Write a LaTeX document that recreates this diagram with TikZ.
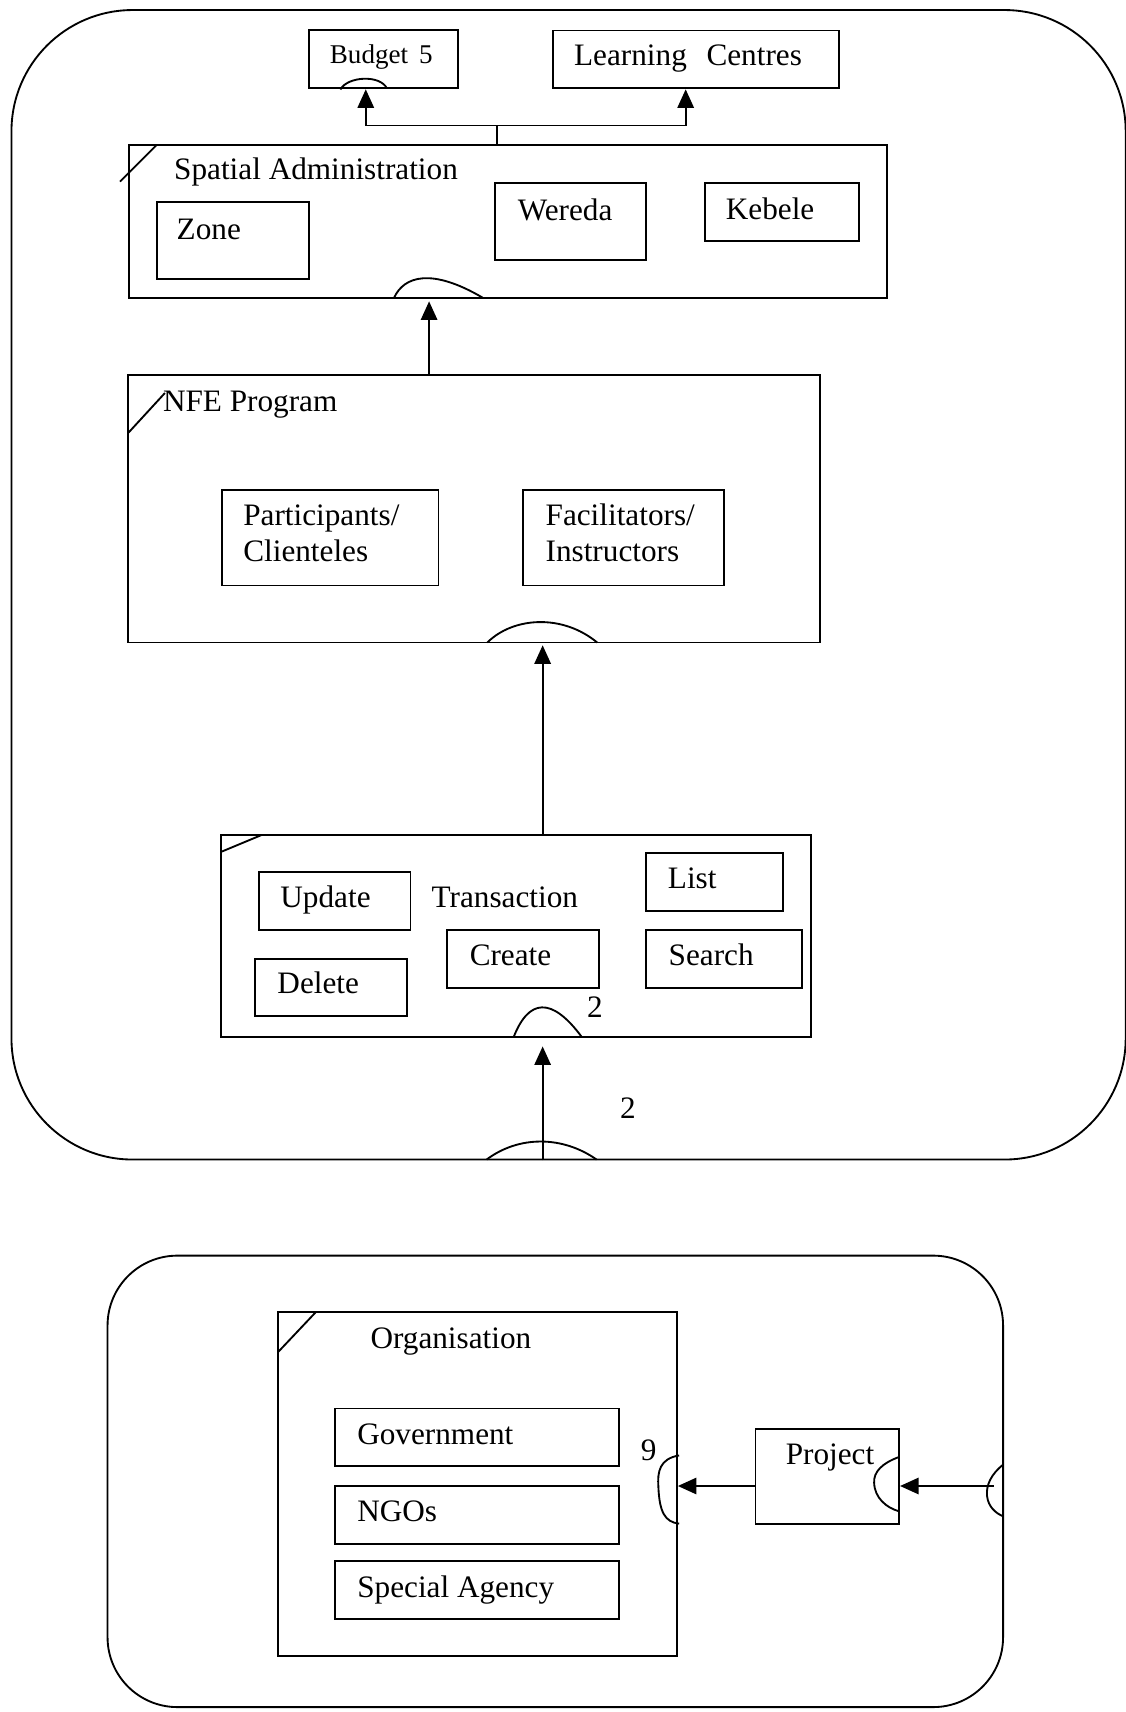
\documentclass[tikz,border=0pt]{standalone}
\usepackage{fontspec}
\setmainfont{Liberation Serif}
\usetikzlibrary{arrows.meta,fit,calc}
\begin{document}
\begin{tikzpicture}[x=0.5pt,y=-0.5pt,
  line width=0.85pt,
  box/.style={draw,rectangle,inner sep=0pt},
  lbl/.style={anchor=base west,inner sep=0pt,font=\fontsize{14.3pt}{16.5pt}\selectfont},
  small/.style={anchor=base west,inner sep=0pt,font=\fontsize{12.4pt}{14pt}\selectfont},
  arr/.style={-{Triangle[length=8.5pt,width=7.5pt]}},
  ]
\fill[white] (0,0) rectangle (1031,1568);
\useasboundingbox (0,0) rectangle (1031,1568);

% ---------- upper frame ----------
\node[box,rounded corners=55.5pt,fit={(10.5,9.2) (1031,1062)}] (topframe) {};

\node[box,fit={(282.7,27.5) (419.4,80.3)}] (budget) {};
\node[small] (budgetT) at (301.3,58.6) {Budget\hspace{5pt}5};
\node[box,fit={(506.3,28) (768.7,80.3)}] (learn) {};
\node[lbl] (learnT) at (525,60.4) {Learning\hspace{9pt}Centres};

\node[box,fit={(118.4,132.8) (812,272.6)}] (spatial) {};
\node[lbl] (spatialT) at (158.7,164.8) {Spatial Administration};
\node[box,fit={(143.5,184.7) (282.7,255.2)}] (zone) {};
\node[lbl] (zoneT) at (161,219) {Zone};
\node[box,fit={(453.7,167.3) (591.8,238)}] (wereda) {};
\node[lbl] (weredaT) at (473.4,202) {Wereda};
\node[box,fit={(645.6,167.3) (786.4,221)}] (kebele) {};
\node[lbl] (kebeleT) at (664,200.8) {Kebele};

\node[box,fit={(117,343.4) (750.8,588.5)}] (nfe) {};
\node[lbl] (nfeT) at (148.5,377) {NFE Program};
\node[box,fit={(203.3,448.7) (401.6,536.3)}] (part) {};
\node[lbl] (partT1) at (222,481.3) {Participants/};
\node[lbl] (partT2) at (222,514.3) {Clienteles};
\node[box,fit={(479.2,448.7) (663.1,536.3)}] (facil) {};
\node[lbl] (facilT1) at (498.9,481.3) {Facilitators/};
\node[lbl] (facilT2) at (498.9,514.3) {Instructors};

\node[box,fit={(202.8,764.5) (743,950)}] (trans) {};
\node[lbl] (transT) at (394.5,830.8) {Transaction};
\node[box,fit={(237,798.8) (376,851.6)}] (update) {};
\node[lbl] (updateT) at (256,830.8) {Update};
\node[box,fit={(592,781.4) (717,834.2)}] (list) {};
\node[lbl] (listT) at (610.9,814) {List};
\node[box,fit={(409.7,851.6) (549,905)}] (create) {};
\node[lbl] (createT) at (429.4,884.2) {Create};
\node[box,fit={(592,851.6) (734.3,905)}] (search) {};
\node[lbl] (searchT) at (611.6,884.2) {Search};
\node[box,fit={(233.9,878.1) (372.9,930.9)}] (delete) {};
\node[lbl] (deleteT) at (253.3,910.2) {Delete};
\node[lbl] (multA) at (536.9,931.5) {2};
\node[lbl] (multB) at (567.2,1024.6) {2};

% corner slashes
\draw (109.9,166.3) -- (143.5,132.8);
\draw (117,397) -- (151,360);
\draw (203,780) -- (239,765);

% cardinality arcs
\draw (311.8,82) .. controls (318,70) and (348,68) .. (354.4,81);
\draw (361,272.6) .. controls (370,253) and (395,245) .. (442,272.6);
\draw (446.3,588.5) .. controls (470,565) and (515,562) .. (547,588.5);
\draw (470.4,950) .. controls (484,915) and (505,912) .. (533,950);
\draw (445.7,1062) .. controls (475,1040) and (515,1040) .. (546.4,1062);

% connectors
\coordinate (j) at (455,115);
\coordinate (budgetIn) at (335,81.8);
\coordinate (learnIn) at (628,81.8);
\draw (spatial.north -| j) -- (j);
\draw[arr] (j) -| (budgetIn);
\draw[arr] (j) -| (learnIn);
\coordinate (spatIn) at (393,276);
\draw[arr] (nfe.north -| spatIn) -- (spatIn);
\coordinate (nfeIn) at (497,591);
\draw[arr] (trans.north -| nfeIn) -- (nfeIn);
\coordinate (transIn) at (497,958.4);
\draw[arr] (topframe.south -| transIn) -- (transIn);

% ---------- lower frame ----------
\node[box,rounded corners=32pt,fit={(98.5,1150) (918.7,1563.5)}] (botframe) {};

\node[box,fit={(255,1202) (620,1517)}] (org) {};
\draw (255,1238) -- (289,1202);
\node[lbl] (orgT) at (338.5,1235.5) {Organisation};
\node[box,fit={(307,1290) (567,1343)}] (gov) {};
\node[lbl] (govT) at (326.4,1323.1) {Government};
\node[box,fit={(307,1361) (567,1414)}] (ngo) {};
\node[lbl] (ngoT) at (326.4,1393.3) {NGOs};
\node[box,fit={(307,1430) (567,1483)}] (spec) {};
\node[lbl] (specT) at (326.4,1462.9) {Special Agency};
\node[lbl] (multC) at (586,1337.8) {9};

\node[box,fit={(692,1308.5) (823.5,1395.5)}] (project) {};
\node[lbl] (projectT) at (718.8,1341.5) {Project};

\draw (622,1333) .. controls (604,1336) and (602,1348) .. (603,1362)
      .. controls (604,1385) and (609,1394) .. (622,1395.5);
\draw (823.5,1334.4) .. controls (808,1340) and (800,1348) .. (800.6,1358)
      .. controls (801,1372) and (812,1381) .. (823.5,1384.2);
\draw (918.7,1341.4) .. controls (908,1350) and (903,1360) .. (904,1370)
      .. controls (905,1380) and (912,1386) .. (918.7,1388.7);

\coordinate (row) at (0,1361);
\coordinate (frameOut) at (910,1361);
\draw[arr] (project.west |- row) -- (org.east |- row);
\draw[arr] (frameOut) -- (project.east |- row);
\end{tikzpicture}
\end{document}
